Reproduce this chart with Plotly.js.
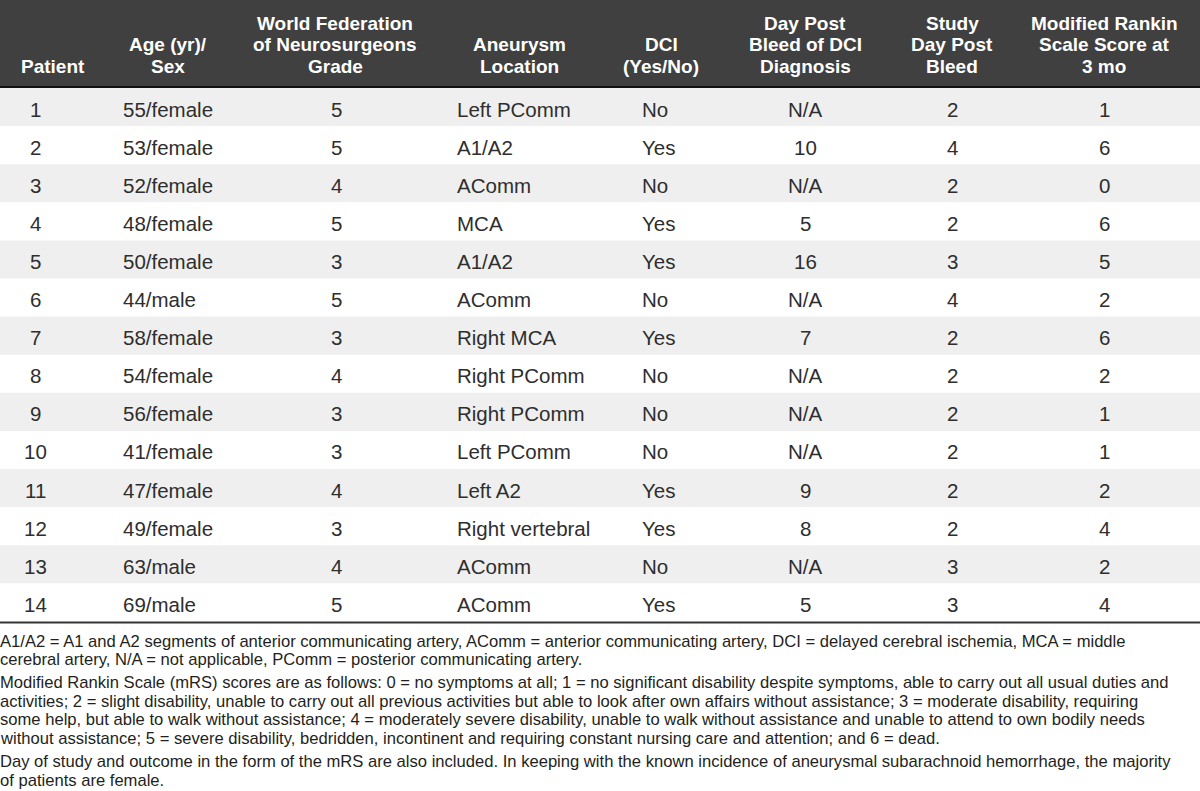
<!DOCTYPE html>
<html>
<head>
<meta charset="utf-8">
<script src="https://cdn.plot.ly/plotly-3.0.1.min.js"></script>
<style>
  html, body { margin: 0; padding: 0; background: #fff; }
  #table { width: 1200px; height: 791px; }
</style>
</head>
<body>
<div id="table"></div>
<script>
// table data
var patients = ['1', '2', '3', '4', '5', '6', '7', '8', '9', '10', '11', '12', '13', '14'];
var ageSex = ['55/female', '53/female', '52/female', '48/female', '50/female', '44/male', '58/female',
  '54/female', '56/female', '41/female', '47/female', '49/female', '63/male', '69/male'];
var wfnsGrade = [5, 5, 4, 5, 3, 5, 3, 4, 3, 3, 4, 3, 4, 5];
var aneurysmLocation = ['Left PComm', 'A1/A2', 'AComm', 'MCA', 'A1/A2', 'AComm', 'Right MCA', 'Right PComm',
  'Right PComm', 'Left PComm', 'Left A2', 'Right vertebral', 'AComm', 'AComm'];
var dci = ['No', 'Yes', 'No', 'Yes', 'Yes', 'No', 'Yes', 'No', 'No', 'No', 'Yes', 'Yes', 'No', 'Yes'];
var dciDay = ['N/A', '10', 'N/A', '5', '16', 'N/A', '7', 'N/A', 'N/A', 'N/A', '9', '8', 'N/A', '5'];
var studyDay = [2, 4, 2, 2, 3, 4, 2, 2, 2, 2, 2, 2, 3, 3];
var mrs3mo = [1, 6, 0, 6, 5, 2, 6, 2, 1, 1, 2, 4, 2, 4];

var headers = [
  ['Patient'],
  ['Age (yr)/', 'Sex'],
  ['World Federation', 'of Neurosurgeons', 'Grade'],
  ['Aneurysm', 'Location'],
  ['DCI', '(Yes/No)'],
  ['Day Post', 'Bleed of DCI', 'Diagnosis'],
  ['Study', 'Day Post', 'Bleed'],
  ['Modified Rankin', 'Scale Score at', '3 mo']
];

var footnotes = [
  ['A1/A2 = A1 and A2 segments of anterior communicating artery, AComm = anterior communicating artery, DCI = delayed cerebral ischemia, MCA = middle',
   'cerebral artery, N/A = not applicable, PComm = posterior communicating artery.'],
  ['Modified Rankin Scale (mRS) scores are as follows: 0 = no symptoms at all; 1 = no significant disability despite symptoms, able to carry out all usual duties and',
   'activities; 2 = slight disability, unable to carry out all previous activities but able to look after own affairs without assistance; 3 = moderate disability, requiring',
   'some help, but able to walk without assistance; 4 = moderately severe disability, unable to walk without assistance and unable to attend to own bodily needs',
   'without assistance; 5 = severe disability, bedridden, incontinent and requiring constant nursing care and attention; and 6 = dead.'],
  ['Day of study and outcome in the form of the mRS are also included. In keeping with the known incidence of aneurysmal subarachnoid hemorrhage, the majority',
   'of patients are female.']
];

var columns = [patients, ageSex, wfnsGrade, aneurysmLocation, dci, dciDay, studyDay, mrs3mo];

// layout settings
var headX = [53, 168, 335, 519, 661, 805, 952, 1104];
var cellX = [35, 121, 336, 455, 640, 805, 952, 1104];
var cellAlign = ['center', 'left', 'center', 'left', 'left', 'center', 'center', 'center'];
var headBottom = 86, rowTop = 88, rowH = 38.1;
var textColor = '#2e2e2e';

var shapes = [];
var annotations = [];

shapes.push({type: 'rect', xref: 'x', yref: 'y', x0: 0, x1: 1200, y0: 0, y1: headBottom,
  fillcolor: '#404040', line: {width: 0}, layer: 'below'});
shapes.push({type: 'line', xref: 'x', yref: 'y', x0: 0, x1: 1200, y0: headBottom + 1, y1: headBottom + 1,
  line: {color: '#111', width: 2}});

for (var r = 0; r < patients.length; r++) {
  if (r % 2 === 0) {
    shapes.push({type: 'rect', xref: 'x', yref: 'y', x0: 0, x1: 1200,
      y0: rowTop + r * rowH, y1: rowTop + (r + 1) * rowH,
      fillcolor: '#efefef', line: {width: 0}, layer: 'below'});
  }
}
var tableBottom = rowTop + patients.length * rowH;
shapes.push({type: 'line', xref: 'x', yref: 'y', x0: 0, x1: 1200, y0: tableBottom + 1, y1: tableBottom + 1,
  line: {color: '#333', width: 2}});

// header text, bottom aligned
headers.forEach(function(lines, c) {
  var n = lines.length;
  lines.forEach(function(t, k) {
    annotations.push({x: headX[c], y: 66 - (n - 1 - k) * 21.5, xref: 'x', yref: 'y',
      text: '<b>' + t + '</b>', showarrow: false, xanchor: 'center', yanchor: 'middle',
      font: {family: 'Liberation Sans, Arial, sans-serif', size: 19, color: '#ffffff'}});
  });
});

// cells
columns.forEach(function(col, c) {
  col.forEach(function(v, r) {
    annotations.push({x: cellX[c], y: rowTop + (r + 0.5) * rowH + 2, xref: 'x', yref: 'y',
      text: String(v), showarrow: false, xanchor: cellAlign[c], yanchor: 'middle',
      font: {family: 'Liberation Sans, Arial, sans-serif', size: 20.5, color: textColor}});
  });
});

// footnotes
var fy = 641;
footnotes.forEach(function(par, p) {
  par.forEach(function(t, k) {
    annotations.push({x: 0, y: fy, xref: 'x', yref: 'y', text: t, showarrow: false,
      xanchor: 'left', yanchor: 'middle', xshift: -2,
      font: {family: 'Liberation Sans, Arial, sans-serif', size: 16.6, color: '#231f20'}});
    fy += 18.6;
  });
  fy += 4.5;
});

var layout = {
  width: 1200,
  height: 791,
  margin: {l: 0, r: 0, t: 0, b: 0},
  paper_bgcolor: '#ffffff',
  plot_bgcolor: '#ffffff',
  showlegend: false,
  xaxis: {range: [0, 1200], visible: false, fixedrange: true},
  yaxis: {range: [791, 0], visible: false, fixedrange: true},
  shapes: shapes,
  annotations: annotations
};

Plotly.newPlot('table', [], layout, {displayModeBar: false, staticPlot: true});
</script>
</body>
</html>
